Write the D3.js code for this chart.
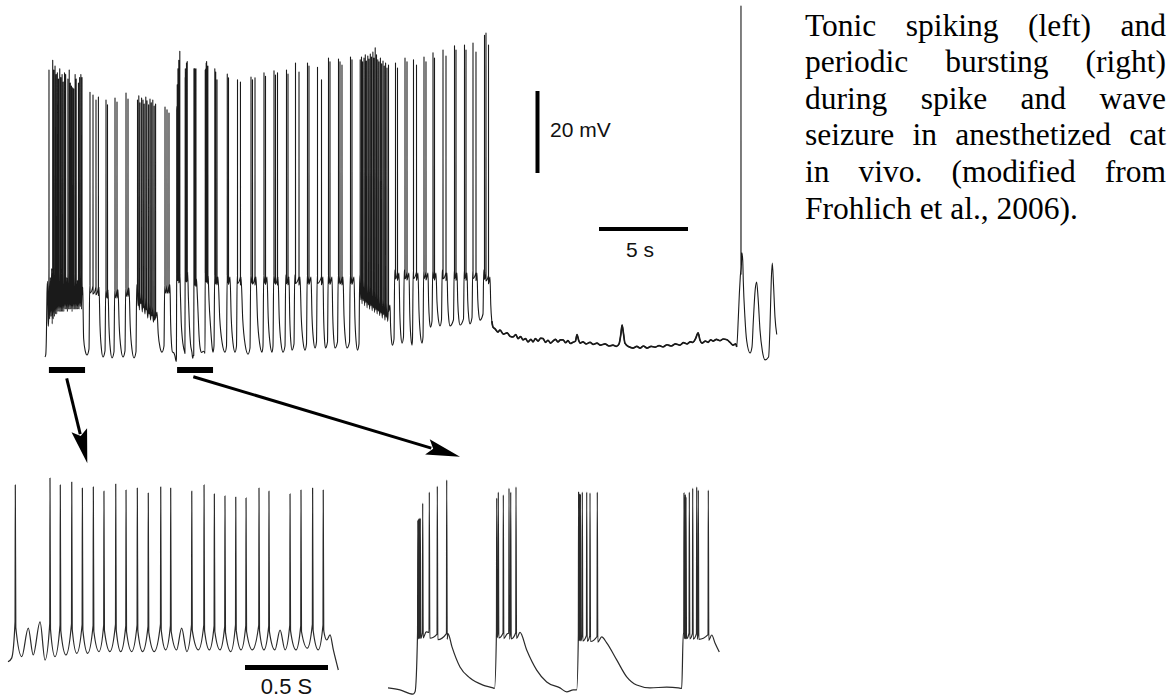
<!DOCTYPE html>
<html>
<head>
<meta charset="utf-8">
<script src="https://cdn.jsdelivr.net/npm/d3@7"></script>
<style>
  html, body { margin: 0; padding: 0; background: #fff; }
  svg { display: block; }
</style>
</head>
<body>
<svg id="fig" width="1171" height="700"></svg>
<script>
// ===== Data (time in s, membrane potential in mV) =====

// Tonic-spiking epoch (2 s): slow oscillation humps, spikes riding on them, troughs between
const tonicHumpT = [0.044, 0.122, 0.193, 0.253, 0.315, 0.384, 0.448, 0.514, 0.578, 0.649, 0.711, 0.779, 0.845, 0.920, 0.980, 1.046, 1.107, 1.181, 1.243, 1.307, 1.372, 1.434, 1.512, 1.572, 1.639, 1.699, 1.765, 1.835, 1.899];
const tonicHumpV = [-53.9, -56.1, -53.9, -54.5, -55.0, -54.6, -54.8, -55.2, -55.0, -54.8, -55.3, -55.0, -55.5, -54.7, -55.2, -56.1, -54.8, -55.0, -55.3, -55.5, -54.9, -55.2, -55.0, -55.4, -56.8, -55.0, -55.3, -54.8, -55.0];
const tonicSpikeV = [-5.5, null, null, -3.1, -5.5, -4.5, -6.6, -6.2, -7.7, -5.2, -7.3, -6.6, -8.4, -6.2, -6.6, null, -7.7, -5.5, -8.7, -9.4, -9.8, -10.1, -6.6, -7.7, null, -8.7, -7.3, -6.6, -7.3];
const tonicTroughT = [0.083, 0.152, 0.223, 0.283, 0.349, 0.414, 0.480, 0.548, 0.614, 0.679, 0.745, 0.811, 0.881, 0.950, 1.016, 1.077, 1.147, 1.213, 1.277, 1.342, 1.404, 1.472, 1.542, 1.608, 1.669, 1.735, 1.803, 1.869];
const tonicTroughV = [-66.2, -65.6, -67.4, -66.2, -65.6, -65.0, -65.0, -64.4, -64.4, -64.4, -64.4, -64.4, -64.4, -63.8, -63.8, -64.4, -63.8, -63.8, -63.8, -64.4, -63.8, -63.8, -63.8, -63.8, -63.8, -63.8, -63.2, -63.8];
const tonicEdgeT = [0.000, 0.022, 1.920, 1.940, 1.960, 1.990];
const tonicEdgeV = [-68.0, -66.7, -60.3, -58.5, -63.8, -70.9];

// Periodic-bursting epoch (2 s): slow-wave key points and spikes
const burstWaveT = [0.000, 0.072, 0.151, 0.163, 0.178, 0.230, 0.300, 0.3614, 0.3855, 0.4337, 0.4940, 0.5723, 0.6325,
                    0.6416, 0.6524, 0.720, 0.7952, 0.8355, 0.8958, 0.9560, 1.0361, 1.0765, 1.1163,
                    1.1367, 1.1466, 1.220, 1.2873, 1.3174, 1.3777, 1.4380, 1.4982, 1.5783, 1.6789, 1.7490,
                    1.7693, 1.7789, 1.860, 1.9500, 1.9699, 1.9958];
const burstWaveV = [-74.4, -75.1, -76.6, -75.8, -55.0, -54.6, -55.4, -55.2, -59.9, -67.0, -70.9, -73.4, -74.4,
                    -74.6, -54.6, -55.2, -54.8, -61.0, -68.1, -72.3, -74.4, -75.8, -75.1,
                    -75.1, -55.7, -56.0, -56.4, -58.5, -64.5, -70.5, -73.4, -74.4, -74.1, -74.4,
                    -74.6, -55.0, -55.2, -55.7, -58.5, -61.7];
const burstSpikeT = [0.1795, 0.1843, 0.1892, 0.1946, 0.2090, 0.2488, 0.2970, 0.3536,
                     0.6548, 0.6645, 0.6946, 0.7289, 0.7392, 0.7711,
                     1.1482, 1.1518, 1.1554, 1.1590, 1.1705, 1.1970, 1.2169, 1.2608,
                     1.7831, 1.7873, 1.7910, 1.7952, 1.8151, 1.8355, 1.8596, 1.8693, 1.9295];
const burstSpikeV = [-15.1, -14.7, -14.4, -14.4, -9.1, -5.2, -3.1, -0.9,
                     -7.3, -5.2, -6.2, -3.8, -5.2, -3.4,
                     -5.2, -5.9, -6.2, -5.9, -5.2, -5.2, -5.5, -5.2,
                     -5.5, -7.3, -6.2, -6.9, -5.2, -3.8, -3.4, -4.5, -4.5];

// Full seizure record: where the two enlarged epochs sit, and the marker bars under them
const tonicStart = 0.18;
const burstStart = 7.22;
const markerStart = [0.22, 7.42];
const markerEnd = [2.25, 9.44];

// Remaining spike-wave cycles of the record: onset, end of depolarised plateau, following trough
const cycOn = [2.472, 3.371, 3.876, 4.494, 5.112, 6.685, 9.494, 10.197, 10.758, 11.517, 12.247, 12.809, 13.483, 13.989, 14.691, 15.253, 15.871, 16.433, 17.107, 17.640, 19.607, 20.140, 20.646, 21.236, 21.742, 22.275, 22.949, 23.511, 23.989, 24.607];
const cycOff = [3.034, 3.539, 4.101, 4.719, 6.292, 7.022, 9.719, 10.393, 11.011, 11.854, 12.472, 13.090, 13.708, 14.326, 14.944, 15.618, 16.124, 16.742, 17.360, 19.382, 19.888, 20.449, 20.955, 21.517, 21.966, 22.584, 23.146, 23.708, 24.270, 25.000];
const cycTroughT = [3.258, 3.764, 4.382, 5.000, 6.573, 7.163, 10.112, 10.674, 11.404, 12.191, 12.753, 13.371, 13.876, 14.607, 15.169, 15.758, 16.292, 16.966, 17.556, 19.522, 20.056, 20.618, 21.180, 21.657, 22.191, 22.753, 23.315, 23.876, 24.438, 25.170];
const cycPlatV = [-57.9, -59.1, -59.1, -58.7, -57.9, -57.9, -55.5, -55.5, -55.5, -55.5, -55.5, -55.5, -55.5, -55.5, -55.5, -55.5, -55.5, -55.5, -55.5, -55.5, -54.3, -54.3, -54.3, -54.3, -54.3, -54.3, -54.3, -54.3, -54.3, -54.3];
const cycPlatEndV = [-58.5, -59.1, -59.1, -58.7, -64.5, -57.9, -56.0, -56.0, -56.0, -56.0, -56.0, -56.0, -56.0, -56.0, -56.0, -56.0, -56.0, -56.0, -56.0, -62.8, -55.0, -55.0, -55.0, -55.0, -55.0, -55.0, -55.0, -55.0, -55.0, -56.0];
const cycTroughV = [-75.5, -75.7, -75.5, -75.7, -74.3, -74.3, -74.3, -74.3, -74.8, -74.3, -74.3, -74.3, -73.8, -73.8, -73.3, -73.3, -73.3, -73.3, -73.8, -72.6, -72.1, -72.6, -72.1, -68.2, -67.9, -67.9, -67.7, -67.4, -66.5, -68.2];

// Spikes of those cycles (plus the isolated spike near the end of the record)
const recSpikeT = [2.528, 2.697, 2.865, 3.000, 3.427, 3.511, 3.933, 4.045, 4.551, 4.663,
  5.197, 5.270, 5.337, 5.427, 5.506, 5.573, 5.663, 5.730, 5.820, 5.899, 5.972, 6.056, 6.135, 6.213,
  6.742, 6.854, 6.966, 9.540, 9.590, 9.663, 10.240, 10.309, 10.815, 10.980, 11.573, 11.657, 11.798,
  12.303, 12.388, 12.865, 12.949, 13.062, 13.567, 13.652, 14.073, 14.270, 14.747, 14.831, 15.309, 15.534,
  15.927, 16.011, 16.489, 16.573, 16.685, 17.163, 17.247,
  17.708, 17.781, 17.843, 17.921, 17.994, 18.056, 18.135, 18.202, 18.275, 18.343, 18.421, 18.483,
  18.551, 18.624, 18.697, 18.764, 18.843, 18.910, 18.989, 19.062, 19.135, 19.213, 19.298,
  19.691, 19.803, 20.225, 20.337, 20.702, 20.871, 21.292, 21.404, 21.798, 21.882, 22.360, 22.528,
  23.006, 23.090, 23.567, 23.652, 24.045, 24.213, 24.691, 24.775, 24.916, 39.100];
const recSpikeV = [-10.9, -11.6, -12.8, -12.1, -12.8, -14.0, -12.3, -13.3, -11.1, -12.6,
  -12.8, -11.8, -13.5, -12.3, -12.8, -13.8, -12.1, -13.0, -14.0, -12.6, -13.5, -12.8, -14.3, -13.8,
  -14.5, -15.2, -16.0, -5.2, -6.0, -7.9, -6.5, -7.4, -7.9, -8.4, -7.2, -7.9, -7.4,
  -6.2, -7.0, -5.7, -6.7, -6.2, -5.5, -6.5, -3.8, -6.0, -3.8, -4.5, -4.8, -7.9,
  -2.6, -3.5, -2.8, -3.5, -4.3, -2.3, -3.0,
  -3.0, -2.3, -3.5, -2.6, -1.8, -3.3, -2.1, -2.8, -1.6, -2.3, -1.1, -2.6,
  -0.1, -1.8, -3.0, -3.5, -2.6, -4.0, -3.3, -4.5, -3.8, -5.0, -4.3,
  -3.8, -5.0, -2.6, -3.5, -3.0, -4.3, -2.3, -3.5, -1.3, -2.6, -0.6, -2.1,
  0.4, -0.6, 0.6, -0.6, 1.1, -1.1, 3.0, 3.5, 0.6, 10.1];

// Potential between spikes inside the two long spike trains of the record
const recBandT = [5.234, 5.304, 5.382, 5.467, 5.540, 5.618, 5.697, 5.775, 5.860, 5.936, 6.014, 6.096, 6.174,
  17.745, 17.812, 17.882, 17.958, 18.025, 18.096, 18.169, 18.239, 18.309, 18.382, 18.452,
  18.517, 18.588, 18.661, 18.731, 18.804, 18.877, 18.950, 19.026, 19.099, 19.174, 19.256];
const recBandV = [-63.0, -64.0, -62.5, -64.5, -63.5, -65.0, -64.0, -66.0, -65.0, -66.5, -65.5, -67.0, -66.5,
  -61.5, -62.5, -61.8, -63.0, -62.2, -63.5, -62.8, -63.8, -63.0, -64.2, -63.5,
  -64.6, -64.0, -65.0, -64.3, -65.4, -64.8, -66.0, -65.2, -66.5, -65.8, -66.8];

// Joins before, between and after the enlarged epochs
const recJoinT = [0.000, 0.040, 0.080, 0.110, 0.140, 0.165, 2.260, 2.360, 9.300, 9.400, 9.440];
const recJoinV = [-75.5, -75.0, -70.0, -60.0, -57.0, -63.0, -74.0, -75.0, -68.0, -73.5, -74.3];

// Post-ictal baseline
const recTailT = [25.28, 25.45, 25.56, 25.75, 25.96, 26.12, 26.29, 26.45, 26.57, 26.72, 26.85, 27.00, 27.13, 27.30, 27.42, 27.55, 27.70, 27.85, 27.98, 28.12, 28.26, 28.40, 28.54, 28.68, 28.82, 28.96, 29.10, 29.25, 29.38, 29.52, 29.66, 29.80, 29.89, 29.98, 30.06, 30.22, 30.40, 30.62, 30.80, 31.01, 31.20, 31.46, 31.70, 31.91, 32.10, 32.25, 32.35, 32.42, 32.50, 32.58, 32.81, 33.03, 33.25, 33.43, 33.62, 33.82, 34.05, 34.27, 34.50, 34.72, 34.95, 35.17, 35.42, 35.67, 35.87, 36.07, 36.25, 36.40, 36.55, 36.69, 36.80, 36.91, 37.10, 37.25, 37.40, 37.53, 37.72, 37.92, 38.10, 38.31, 38.50, 38.65, 38.81];
const recTailV = [-68.6, -69.4, -68.9, -69.9, -69.6, -70.4, -70.6, -70.0, -71.0, -70.5, -71.3, -71.0, -71.8, -71.2, -71.8, -71.0, -71.6, -70.9, -71.0, -71.9, -71.4, -72.1, -71.6, -71.2, -71.8, -71.3, -71.3, -72.0, -71.5, -72.2, -71.9, -71.6, -70.0, -71.4, -72.1, -71.8, -72.3, -71.9, -72.4, -72.1, -72.6, -72.3, -72.8, -72.6, -72.9, -72.3, -70.0, -67.7, -69.8, -72.1, -73.0, -73.3, -72.9, -73.3, -72.8, -73.3, -72.9, -73.1, -72.7, -73.0, -72.5, -72.8, -72.3, -72.6, -72.0, -72.3, -71.8, -71.9, -71.0, -69.6, -71.4, -72.1, -71.6, -71.9, -71.3, -71.6, -71.2, -71.5, -71.1, -71.3, -72.0, -72.6, -72.3];

// Renewed slow waves at the end of the record
const recEndT = [38.86, 38.95, 39.01, 39.06, 39.15, 39.20, 39.23, 39.32, 39.42, 39.61, 39.72, 39.79, 39.90, 39.98, 40.06, 40.17, 40.30, 40.45, 40.65, 40.73, 40.80, 40.86, 40.93, 41.01, 41.11];
const recEndV = [-73.0, -66.0, -59.9, -56.0, -50.1, -52.0, -57.0, -65.7, -71.5, -74.5, -73.0, -67.0, -59.0, -57.2, -61.0, -69.0, -74.0, -76.2, -75.5, -68.0, -57.0, -52.6, -58.0, -65.7, -70.0];

// Calibration bars
const barMV = 20;
const barSec = 5;
const zoomBarSec = 0.5;

const captionLines = [
  "Tonic spiking (left) and",
  "periodic bursting (right)",
  "during spike and wave",
  "seizure in anesthetized cat",
  "in vivo. (modified from",
  "Frohlich et al., 2006)."
];

// ===== Scales =====
const xRec = d3.scaleLinear().domain([0, 41]).range([45, 774.8]);
const yRec = d3.scaleLinear().domain([-75, 0]).range([355, 47.5]);
const xTonic = d3.scaleLinear().domain([0, 2]).range([8, 340]);
const yTonic = d3.scaleLinear().domain([-55, 0]).range([625, 469.35]);
const xBurst = d3.scaleLinear().domain([0, 2]).range([388, 720]);
const yBurst = d3.scaleLinear().domain([-55, 0]).range([633, 477.35]);

// ===== Trace assembly =====
const SPIKE_RISE = 0.0015, SPIKE_FALL = 0.003, SPIKE_AHP = 2;
const pts = (T, V) => T.map((t, i) => ({ t, v: V[i] }));
const shift = (arr, dt) => arr.map(p => ({ t: p.t + dt, v: p.v }));

function interp(wave, t) {
  const i = d3.bisector(d => d.t).right(wave, t);
  if (i <= 0) return wave[0].v;
  if (i >= wave.length) return wave[wave.length - 1].v;
  const a = wave[i - 1], b = wave[i];
  return a.v + (b.v - a.v) * (t - a.t) / (b.t - a.t);
}

// Merge slow-wave key points with spikes (each spike leaves from the local slow-wave level)
function trace(wave, spikes, extra = []) {
  wave = wave.slice().sort((a, b) => a.t - b.t);
  const out = wave.filter(p => !spikes.some(s => p.t > s.t - 2 * SPIKE_RISE && p.t < s.t + 2 * SPIKE_FALL));
  spikes.forEach(s => {
    const base = interp(wave, s.t);
    out.push({ t: s.t - SPIKE_RISE, v: base }, { t: s.t, v: s.v }, { t: s.t + SPIKE_FALL, v: base - SPIKE_AHP });
  });
  extra.forEach(p => out.push(p));
  out.sort((a, b) => a.t - b.t);
  const res = [];
  out.forEach(p => { if (!res.length || p.t > res[res.length - 1].t + 1e-7) res.push(p); });
  return res;
}

const tonicWave = [...pts(tonicEdgeT, tonicEdgeV), ...pts(tonicHumpT, tonicHumpV), ...pts(tonicTroughT, tonicTroughV)];
const tonicSpikes = tonicHumpT.map((t, i) => ({ t, v: tonicSpikeV[i] })).filter(d => d.v !== null);
const burstWave = pts(burstWaveT, burstWaveV);
const burstSpikes = pts(burstSpikeT, burstSpikeV);

const cycleWave = [];
cycOn.forEach((on, i) => {
  const prev = i ? cycTroughV[i - 1] : -75;
  const off = cycOff[i], tr = cycTroughT[i], pe = cycPlatEndV[i], tv = cycTroughV[i];
  cycleWave.push(
    { t: on, v: prev + 1.5 },
    { t: on + 0.04, v: cycPlatV[i] },
    { t: off, v: pe },
    { t: off + 0.25 * (tr - off), v: pe + 0.55 * (tv - pe) },
    { t: off + 0.6 * (tr - off), v: pe + 0.88 * (tv - pe) },
    { t: tr, v: tv }
  );
});

const recWave = [
  ...pts(recJoinT, recJoinV), ...pts(recTailT, recTailV), ...pts(recEndT, recEndV),
  ...cycleWave, ...shift(tonicWave, tonicStart), ...shift(burstWave, burstStart)
];
const recSpikes = [...pts(recSpikeT, recSpikeV), ...shift(tonicSpikes, tonicStart), ...shift(burstSpikes, burstStart)];
const recTrace = trace(recWave, recSpikes, pts(recBandT, recBandV));

// ===== Drawing =====
const svg = d3.select("#fig");
svg.append("rect").attr("width", 1171).attr("height", 700).attr("fill", "#fff");

const traceColor = "#1a1a1a";
const lineRec = d3.line().x(d => xRec(d.t)).y(d => yRec(d.v)).curve(d3.curveMonotoneX);
svg.append("path").attr("d", lineRec(recTrace))
  .attr("fill", "none").attr("stroke", traceColor).attr("stroke-width", 1.1).attr("stroke-linejoin", "round");
svg.append("path").attr("d", lineRec(recTrace.filter(d => d.t >= 25.1 && d.t <= 38.9)))
  .attr("fill", "none").attr("stroke", traceColor).attr("stroke-width", 1.7).attr("stroke-linejoin", "round");

const lineTonic = d3.line().x(d => xTonic(d.t)).y(d => yTonic(d.v)).curve(d3.curveMonotoneX);
svg.append("path").attr("d", lineTonic(trace(tonicWave, tonicSpikes)))
  .attr("fill", "none").attr("stroke", "#2a2a2a").attr("stroke-width", 1.2).attr("stroke-linejoin", "round");

const lineBurst = d3.line().x(d => xBurst(d.t)).y(d => yBurst(d.v)).curve(d3.curveMonotoneX);
svg.append("path").attr("d", lineBurst(trace(burstWave, burstSpikes)))
  .attr("fill", "none").attr("stroke", "#2a2a2a").attr("stroke-width", 1.2).attr("stroke-linejoin", "round");

// Marker bars under the record
markerStart.forEach((s, i) => {
  svg.append("line").attr("x1", xRec(s)).attr("x2", xRec(markerEnd[i]))
    .attr("y1", 370).attr("y2", 370).attr("stroke", "#000").attr("stroke-width", 6);
});

// Arrows from the markers to the enlarged traces
function arrow(x1, y1, x2, y2) {
  const L = 34, W = 8;
  const dx = x2 - x1, dy = y2 - y1, len = Math.hypot(dx, dy);
  const ux = dx / len, uy = dy / len;
  const bx = x2 - ux * L, by = y2 - uy * L;
  svg.append("line").attr("x1", x1).attr("y1", y1).attr("x2", bx + ux * 4).attr("y2", by + uy * 4)
    .attr("stroke", "#000").attr("stroke-width", 3);
  svg.append("polygon")
    .attr("points", [[x2, y2], [bx - uy * W, by + ux * W], [bx + ux * 6, by + uy * 6], [bx + uy * W, by - ux * W]].map(p => p.join(",")).join(" "))
    .attr("fill", "#000");
}
arrow(66.7, 378.3, 87.3, 463.3);
arrow(193.3, 376.7, 460, 456.7);

// Calibration bars
const vTop = 91;
svg.append("line").attr("x1", 537.5).attr("x2", 537.5)
  .attr("y1", vTop).attr("y2", vTop + (yRec(-75) - yRec(-75 + barMV)))
  .attr("stroke", "#000").attr("stroke-width", 4);
svg.append("line").attr("x1", 599).attr("x2", 599 + (xRec(barSec) - xRec(0)))
  .attr("y1", 229).attr("y2", 229).attr("stroke", "#000").attr("stroke-width", 4);
svg.append("line").attr("x1", 245).attr("x2", 245 + (xTonic(zoomBarSec) - xTonic(0)))
  .attr("y1", 667.5).attr("y2", 667.5).attr("stroke", "#000").attr("stroke-width", 5);

const sans = "'Liberation Sans', Arial, Helvetica, sans-serif";
svg.append("text").attr("x", 550).attr("y", 137).attr("font-family", sans).attr("font-size", 21)
  .attr("fill", "#111").text(barMV + " mV");
svg.append("text").attr("x", 640).attr("y", 256.5).attr("text-anchor", "middle").attr("font-family", sans)
  .attr("font-size", 21).attr("fill", "#111").text(barSec + " s");
svg.append("text").attr("x", 286.5).attr("y", 694).attr("text-anchor", "middle").attr("font-family", sans)
  .attr("font-size", 22).attr("fill", "#111").text(zoomBarSec + " S");

// Justified caption
const X0 = 805, X1 = 1166, FS = 31.5;
const cap = svg.append("g").attr("font-family", "'Liberation Serif', 'Times New Roman', serif")
  .attr("font-size", FS).attr("fill", "#000");
captionLines.forEach((line, i) => {
  const words = line.split(" ");
  const y = 35.5 + i * 36.6;
  const last = i === captionLines.length - 1;
  const nodes = words.map(w => cap.append("text").attr("y", y).text(w));
  const widths = nodes.map(n => n.node().getComputedTextLength());
  const total = d3.sum(widths);
  const gap = last ? FS * 0.25 : (X1 - X0 - total) / (words.length - 1);
  let x = X0;
  nodes.forEach((n, j) => { n.attr("x", x); x += widths[j] + gap; });
});
</script>
</body>
</html>
